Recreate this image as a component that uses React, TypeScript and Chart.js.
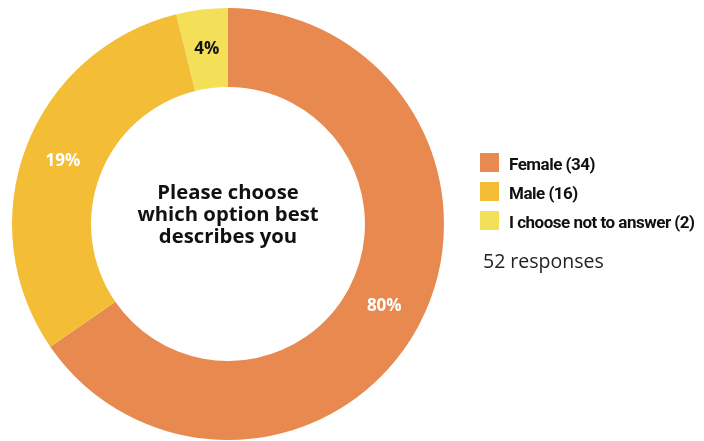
import React, { useEffect, useRef } from "react";
import { Chart, registerables } from "chart.js";

Chart.register(...registerables);

const categories = ["Female", "Male", "I choose not to answer"];
const counts = [34, 16, 2];
const percentLabels = ["80%", "19%", "4%"];
const sliceColors = ["#E88A50", "#F3BE36", "#F3E058"];
const percentColors = ["#FFFFFF", "#FFFFFF", "#111111"];
const centerTitle = ["Please choose", "which option best", "describes you"];
const responsesText = "52 responses";

const overlayPlugin = {
  id: "overlay",
  afterDatasetsDraw(chart: any) {
    const ctx = chart.ctx;
    const meta = chart.getDatasetMeta(0);
    ctx.save();
    // percentage labels
    ctx.font = "bold 17px 'Open Sans', Roboto, sans-serif";
    ctx.textAlign = "center";
    ctx.textBaseline = "middle";
    meta.data.forEach((arc: any, i: number) => {
      const p = arc.getProps(["x", "y", "startAngle", "endAngle", "innerRadius", "outerRadius"], true);
      const mid = (p.startAngle + p.endAngle) / 2;
      const r = (p.innerRadius + p.outerRadius) / 2;
      ctx.fillStyle = percentColors[i];
      ctx.fillText(percentLabels[i], p.x + Math.cos(mid) * r, p.y + Math.sin(mid) * r);
    });
    // center title
    const a0 = meta.data[0];
    ctx.fillStyle = "#111111";
    ctx.font = "bold 20.3px 'Open Sans', Roboto, sans-serif";
    ctx.textBaseline = "alphabetic";
    centerTitle.forEach((line, i) => {
      ctx.fillText(line, a0.x, a0.y - 25 + i * 22);
    });
    // legend
    const lx = chart.chartArea.right + 36;
    const ly = 153;
    ctx.textAlign = "left";
    categories.forEach((c, i) => {
      ctx.fillStyle = sliceColors[i];
      ctx.fillRect(lx, ly + i * 29, 19, 19);
      ctx.fillStyle = "#111111";
      ctx.font = "bold 17px Roboto, sans-serif";
      try { (ctx as any).letterSpacing = "-0.5px"; } catch (e) {}
      ctx.fillText(`${c} (${counts[i]})`, lx + 29, ly + 17 + i * 29);
      try { (ctx as any).letterSpacing = "0px"; } catch (e) {}
    });
    ctx.fillStyle = "#222222";
    ctx.font = "19.5px 'Open Sans', Roboto, sans-serif";
    ctx.fillText(responsesText, lx + 3, 268);
    ctx.restore();
  },
};

export default function App() {
  const ref = useRef<HTMLCanvasElement>(null);
  useEffect(() => {
    document.body.style.margin = "0";
    const chart = new Chart(ref.current!, {
      type: "doughnut",
      data: {
        labels: categories,
        datasets: [
          {
            data: counts,
            backgroundColor: sliceColors,
            borderWidth: 0,
          },
        ],
      },
      options: {
        responsive: false,
        animation: false,
        cutout: "63.4%",
        layout: { padding: { left: 12, top: 8, right: 260, bottom: 1 } },
        plugins: { legend: { display: false }, tooltip: { enabled: false } },
      },
      plugins: [overlayPlugin],
    });
    return () => chart.destroy();
  }, []);
  return (
    <div style={{ width: 704, height: 441, background: "#fff" }}>
      <canvas ref={ref} width={704} height={441} />
    </div>
  );
}
